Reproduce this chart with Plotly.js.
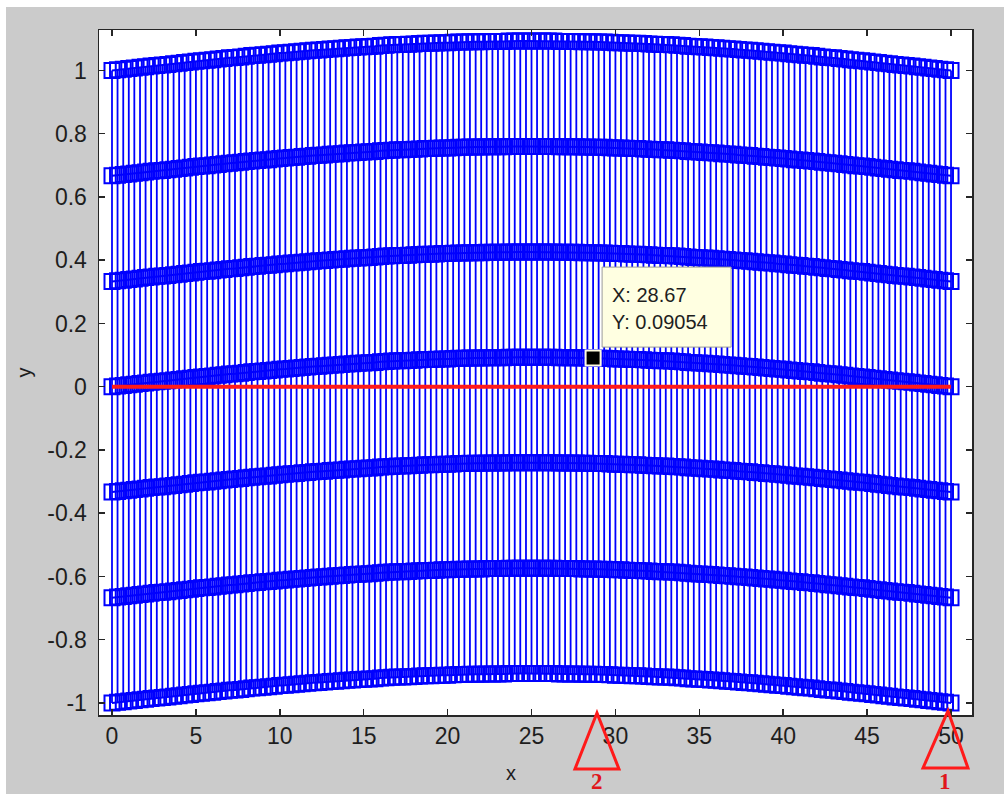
<!DOCTYPE html>
<html>
<head>
<meta charset="utf-8">
<script src="https://cdn.plot.ly/plotly-3.0.1.min.js"></script>
<style>
  html, body { margin: 0; padding: 0; background: #ffffff; }
  #bg { position: absolute; left: 6px; top: 7px; width: 998px; height: 787px; background: #cbcbcb; }
  #chart { position: absolute; left: 0; top: 0; width: 1004px; height: 794px; }
</style>
</head>
<body>
<div id="bg"></div>
<div id="chart"></div>
<script>
// x positions of the mesh columns (step of one third)
const xVals = [
  0,0.33,0.67,1,1.33,1.67,2,2.33,2.67,3,3.33,3.67,4,4.33,4.67,5,5.33,5.67,6,6.33,6.67,7,7.33,7.67,8,8.33,8.67,9,9.33,9.67,
  10,10.33,10.67,11,11.33,11.67,12,12.33,12.67,13,13.33,13.67,14,14.33,14.67,15,15.33,15.67,16,16.33,16.67,17,17.33,17.67,18,18.33,18.67,19,19.33,19.67,
  20,20.33,20.67,21,21.33,21.67,22,22.33,22.67,23,23.33,23.67,24,24.33,24.67,25,25.33,25.67,26,26.33,26.67,27,27.33,27.67,28,28.33,28.67,29,29.33,29.67,
  30,30.33,30.67,31,31.33,31.67,32,32.33,32.67,33,33.33,33.67,34,34.33,34.67,35,35.33,35.67,36,36.33,36.67,37,37.33,37.67,38,38.33,38.67,39,39.33,39.67,
  40,40.33,40.67,41,41.33,41.67,42,42.33,42.67,43,43.33,43.67,44,44.33,44.67,45,45.33,45.67,46,46.33,46.67,47,47.33,47.67,48,48.33,48.67,49,49.33,49.67,
  50
];
// upward displacement of each column
const bump = [
  0,.002,.004,.006,.008,.010,.012,.014,.016,.017,.019,.021,.023,.025,.027,.029,.031,.032,.034,.036,
  .038,.040,.041,.043,.045,.047,.048,.050,.051,.053,.055,.056,.058,.059,.061,.062,.064,.065,.066,.068,
  .069,.070,.072,.073,.074,.075,.076,.077,.079,.080,.081,.082,.082,.083,.084,.085,.086,.086,.087,.088,
  .088,.089,.090,.090,.091,.091,.091,.092,.092,.092,.092,.093,.093,.093,.093,.093,
  .093,.093,.093,.093,.092,.092,.092,.092,.091,.091,.0905,.090,.090,.089,.088,.088,.087,.086,.086,.085,
  .084,.083,.082,.082,.081,.080,.079,.077,.076,.075,.074,.073,.072,.070,.069,.068,.066,.065,.064,.062,
  .061,.059,.058,.056,.055,.053,.051,.050,.048,.047,.045,.043,.041,.040,.038,.036,.034,.032,.031,.029,
  .027,.025,.023,.021,.019,.017,.016,.014,.012,.010,.008,.006,.004,.002,0
];
// base level of each mesh row
const levels = [-1, -0.667, -0.333, 0, 0.333, 0.667, 1];

// red reference line
const refX = [0, 50];
const refY = [0, 0];

// data tip
const tipX = [28.67];
const tipY = [0.09054];
const tipLabels = ['X: 28.67', 'Y: 0.09054'];

// ticks
const xTickVals = [0, 5, 10, 15, 20, 25, 30, 35, 40, 45, 50];
const xTickText = ['0', '5', '10', '15', '20', '25', '30', '35', '40', '45', '50'];
const yTickVals = [-1, -0.8, -0.6, -0.4, -0.2, 0, 0.2, 0.4, 0.6, 0.8, 1];
const yTickText = ['-1', '-0.8', '-0.6', '-0.4', '-0.2', '0', '0.2', '0.4', '0.6', '0.8', '1'];

// axis labels and marker labels below the axis
const xLabel = 'x';
const yLabel = 'y';
const markLabels = ['2', '1'];

const BLUE = '#0000ff';
const traces = [];

// vertical mesh lines
const vx = [], vy = [];
xVals.forEach((x, i) => {
  vx.push(x, x, null);
  vy.push(levels[0] + bump[i], levels[levels.length - 1] + bump[i], null);
});
traces.push({
  x: vx, y: vy, type: 'scatter', mode: 'lines',
  line: { color: BLUE, width: 1.8 }, hoverinfo: 'skip', showlegend: false
});

// mesh rows with square markers
levels.forEach(lv => {
  traces.push({
    x: xVals, y: xVals.map((_, i) => lv + bump[i]),
    type: 'scatter', mode: 'lines+markers',
    line: { color: BLUE, width: 2 },
    marker: { symbol: 'square-open', size: 15, color: BLUE, line: { color: BLUE, width: 2 } },
    showlegend: false
  });
});

// red line
traces.push({
  x: refX, y: refY, type: 'scatter', mode: 'lines',
  line: { color: '#ff1a1a', width: 4 }, showlegend: false
});

// data tip marker
traces.push({
  x: tipX, y: tipY, type: 'scatter', mode: 'markers',
  marker: { symbol: 'square', size: 15, color: '#000000', line: { color: '#fffbe0', width: 2 } },
  showlegend: false
});

const font = { family: 'Liberation Sans, Arial, sans-serif', color: '#1e1e1e' };

const layout = {
  width: 1004, height: 794,
  margin: { l: 99, r: 32, t: 30, b: 79 },
  paper_bgcolor: 'rgba(0,0,0,0)',
  plot_bgcolor: '#ffffff',
  showlegend: false,
  xaxis: {
    range: [-0.775, 51.25],
    tickvals: xTickVals, ticktext: xTickText,
    ticks: 'inside', ticklen: 6, tickwidth: 1.5, tickcolor: '#262626',
    showline: true, linecolor: '#262626', linewidth: 1.5, mirror: 'ticks',
    showgrid: false, zeroline: false,
    tickfont: Object.assign({ size: 23 }, font)
  },
  yaxis: {
    range: [-1.038, 1.128],
    tickvals: yTickVals, ticktext: yTickText,
    ticks: 'inside', ticklen: 6, tickwidth: 1.5, tickcolor: '#262626',
    showline: true, linecolor: '#262626', linewidth: 1.5, mirror: 'ticks',
    showgrid: false, zeroline: false,
    tickfont: Object.assign({ size: 23 }, font),
    ticklabelstandoff: 6,
    title: { text: yLabel, font: Object.assign({ size: 20 }, font), standoff: 10 }
  },
  shapes: [
    // data tip box
    {
      type: 'rect', xref: 'x', yref: 'y',
      xsizemode: 'pixel', ysizemode: 'pixel',
      xanchor: tipX[0], yanchor: tipY[0],
      x0: 9, x1: 138, y0: 11, y1: 91,
      fillcolor: '#ffffe1', line: { color: '#9a9a9a', width: 1 }
    },
    // triangle 2
    {
      type: 'path', xref: 'paper', yref: 'paper',
      path: 'M 0.5704 0.003 L 0.5452 -0.0788 L 0.5956 -0.0788 Z',
      line: { color: '#ff1a1a', width: 3 }, fillcolor: 'rgba(0,0,0,0)'
    },
    // triangle 1
    {
      type: 'path', xref: 'paper', yref: 'paper',
      path: 'M 0.9725 0.006 L 0.9439 -0.0774 L 0.9954 -0.0774 Z',
      line: { color: '#ff1a1a', width: 3 }, fillcolor: 'rgba(0,0,0,0)'
    }
  ],
  annotations: [
    {
      x: 0.472, y: -0.085, xref: 'paper', yref: 'paper', text: xLabel,
      showarrow: false, xanchor: 'center', yanchor: 'middle',
      font: Object.assign({ size: 20 }, font)
    },
    {
      x: tipX[0], y: tipY[0], xref: 'x', yref: 'y', text: tipLabels[0],
      showarrow: false, xanchor: 'left', yanchor: 'middle', xshift: 17, yshift: 63,
      font: Object.assign({ size: 20 }, font)
    },
    {
      x: tipX[0], y: tipY[0], xref: 'x', yref: 'y', text: tipLabels[1],
      showarrow: false, xanchor: 'left', yanchor: 'middle', xshift: 17, yshift: 36,
      font: Object.assign({ size: 20 }, font)
    },
    {
      x: 0.5704, y: -0.097, xref: 'paper', yref: 'paper', text: '<b>' + markLabels[0] + '</b>',
      showarrow: false, xanchor: 'center', yanchor: 'middle',
      font: { family: 'Liberation Serif, Times New Roman, serif', size: 23, color: '#e0161b' }
    },
    {
      x: 0.9695, y: -0.097, xref: 'paper', yref: 'paper', text: '<b>' + markLabels[1] + '</b>',
      showarrow: false, xanchor: 'center', yanchor: 'middle',
      font: { family: 'Liberation Serif, Times New Roman, serif', size: 23, color: '#e0161b' }
    }
  ]
};

Plotly.newPlot('chart', traces, layout, { displayModeBar: false, staticPlot: true });
</script>
</body>
</html>
